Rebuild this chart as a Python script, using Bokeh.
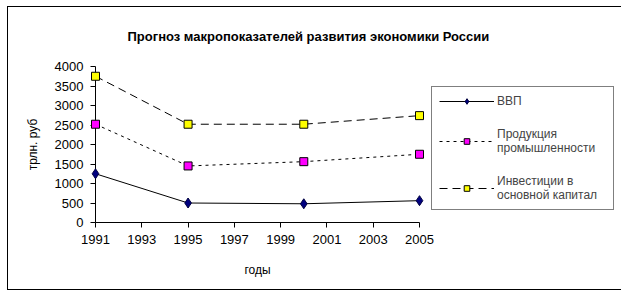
from bokeh.plotting import figure
from bokeh.models import (Range1d, FixedTicker, Legend, LegendItem, Title)
from bokeh.embed import file_html
from bokeh.resources import INLINE

years = [1991, 1995, 2000, 2005]
vvp = [1250, 500, 480, 560]
prod = [2520, 1450, 1560, 1750]
invest = [3750, 2520, 2520, 2740]
series_names = ["ВВП", "Продукция\nпромышленности", "Инвестиции в\nосновной капитал"]
x_ticks = list(range(1991, 2006, 2))
y_ticks = list(range(0, 4001, 500))
title_text = "Прогноз макропоказателей развития экономики России"
x_label = "годы"
y_label = "трлн. руб"

FONT = "Liberation Sans"

p = figure(frame_width=324, frame_height=156, output_backend="svg", toolbar_location=None,
           x_range=Range1d(1991, 2005), y_range=Range1d(0, 4000),
           min_border_left=87, min_border_right=194, min_border_top=59, min_border_bottom=67,
           margin=(7, 0, 0, 8),
           styles={"outline": "1px solid black"})
p.outline_line_color = None
p.xgrid.visible = False
p.ygrid.visible = False
p.background_fill_color = "white"
p.border_fill_color = "white"

for ax in (p.xaxis[0], p.yaxis[0]):
    ax.axis_line_color = "black"
    ax.major_tick_line_color = "black"
    ax.major_tick_out = 5
    ax.major_tick_in = 0
    ax.minor_tick_line_color = None
    ax.major_label_text_font = FONT
    ax.major_label_text_font_size = "13px"
    ax.major_label_text_color = "black"
    ax.major_label_standoff = 7
    ax.axis_label_text_font = FONT
    ax.axis_label_text_font_size = "12px"
    ax.axis_label_text_font_style = "normal"
    ax.axis_label_text_color = "black"

p.xaxis.ticker = FixedTicker(ticks=x_ticks)
p.yaxis.ticker = FixedTicker(ticks=y_ticks)
p.xaxis.axis_label = x_label
p.yaxis.axis_label = y_label
p.xaxis.axis_label_standoff = 16
p.yaxis.axis_label_standoff = 12

l1 = p.line(years, vvp, line_color="black", line_width=1)
m1 = p.scatter(years, vvp, marker="diamond", size=10, fill_color="#000080", line_color="#000040")
l2 = p.line(years, prod, line_color="black", line_width=1, line_dash="3 4")
m2 = p.scatter(years, prod, marker="square", size=8, fill_color="#FF00FF", line_color="black")
l3 = p.line(years, invest, line_color="black", line_width=1, line_dash="8 5")
m3 = p.scatter(years, invest, marker="square", size=8, fill_color="#FFFF00", line_color="black")
for r in (l1, m1, l2, m2, l3, m3):
    r.level = "overlay"

legend = Legend(items=[
    LegendItem(label=series_names[0], renderers=[l1, m1]),
    LegendItem(label=series_names[1], renderers=[l2, m2]),
    LegendItem(label=series_names[2], renderers=[l3, m3]),
], location="bottom_left")
legend.border_line_color = "black"
legend.border_line_width = 1
legend.background_fill_color = "white"
legend.background_fill_alpha = 1
legend.label_text_font = FONT
legend.label_text_font_size = "12px"
legend.glyph_width = 55
legend.glyph_height = 14
legend.label_height = 14
legend.label_standoff = 3
legend.label_width = 109
legend.padding = 7
legend.spacing = 19
legend.margin = 12
p.add_layout(legend, "right")

title = Title(text=title_text, align="left", offset=32, standoff=41, vertical_align="top",
              text_font=FONT, text_font_size="13px", text_font_style="bold",
              text_color="black")
p.add_layout(title, "above")

open("out.html", "w").write(file_html(p, INLINE))
